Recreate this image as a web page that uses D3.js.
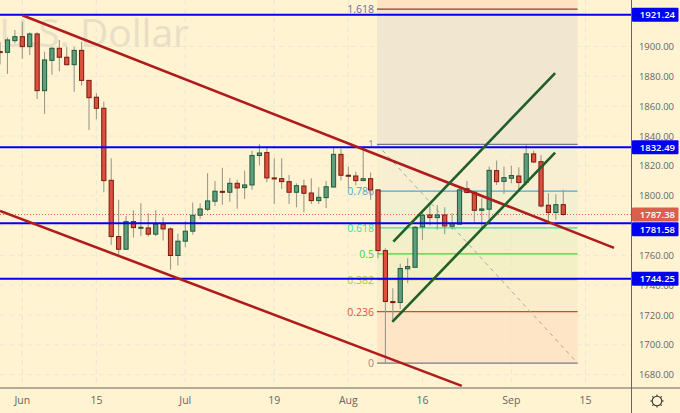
<!DOCTYPE html>
<html><head><meta charset="utf-8">
<script src="https://cdn.jsdelivr.net/npm/d3@7"></script>
<style>html,body{margin:0;padding:0;background:#fff3d1}svg{display:block}text{font-family:"Open Sans",sans-serif}</style>
</head><body><svg id="c" width="680" height="413"></svg>
<script>
// [bar index, open, high, low, close]
const candles = [
[-3,1896.6,1903,1888,1896],[-2,1896.1,1906.1,1881.6,1904.4],[-1,1903.9,1911.1,1902.1,1906.6],[0,1906.6,1916.6,1891.6,1899.9],
[1,1899.9,1909.5,1894.3,1908.4],[2,1908.4,1909.5,1864.8,1870.4],[3,1870.4,1896.5,1854.8,1891],[4,1890.7,1899.9,1881.1,1898.8],
[5,1898.8,1904.4,1883.4,1892.8],[6,1892.8,1899.9,1887.2,1887.8],[7,1887.8,1899.9,1869.7,1897.4],[8,1897.4,1903.2,1873.8,1877.3],
[9,1877.3,1877.3,1844.1,1865.7],[10,1866,1868.6,1851.2,1858.6],[11,1858.6,1863,1802.3,1810.1],[12,1810.3,1825.1,1767,1772.6],
[13,1772.6,1797.2,1759.6,1764.1],[14,1764.1,1786.4,1763.7,1782.6],[15,1782.6,1790.2,1771.9,1778.6],[16,1778.3,1794.9,1773,1778.8],
[17,1778.4,1788.2,1772.6,1774.2],[18,1774.2,1790.2,1773,1780.9],[19,1780.9,1785.5,1769.9,1777.7],[20,1777.7,1778.8,1750.3,1759.9],
[21,1759.9,1774.4,1753.2,1769.5],[22,1769.5,1782.9,1765.4,1776.2],[23,1776.2,1795.4,1773.9,1786.9],[24,1786.9,1794.9,1784.4,1791.1],
[25,1790.9,1815,1789.8,1796.5],[26,1796.3,1809.9,1793.1,1803],[27,1802.9,1818.8,1794,1802.5],[28,1802.3,1812.1,1796,1808.3],
[29,1808.3,1810.6,1791.3,1805.2],[30,1805.4,1816.8,1797.8,1807.2],[31,1807.2,1830.2,1803.9,1826.9],[32,1826.9,1834.4,1820.2,1828.6],
[33,1828.9,1832.9,1809,1811.9],[34,1811.9,1825.1,1794.5,1811.5],[35,1811.4,1825.1,1804.5,1809.4],[36,1809.4,1813.9,1794.5,1802.3],
[37,1802.3,1808.3,1792.2,1806.7],[38,1806.5,1810.6,1788.9,1801.6],[39,1801.8,1811.7,1794.5,1796.7],[40,1796.7,1805.6,1794.5,1798.9],
[41,1798.7,1809.9,1791.8,1806],[42,1805.8,1832.9,1805.6,1827.7],[43,1827.7,1831.3,1810.1,1813.7],[44,1813.7,1819.5,1805,1813.3],
[45,1813.2,1816.1,1807,1810.1],[46,1810.1,1832.9,1810.1,1811.4],[47,1811.4,1815.5,1797.2,1803.9],[48,1803.9,1804.2,1758.1,1763.2],
[49,1763.2,1764.8,1687.7,1729.1],[50,1729,1738,1715.6,1728.6],[51,1728.4,1754.3,1723.9,1751.2],[52,1751,1758.1,1741.3,1752.5],
[53,1752,1779.7,1752,1778.8],[54,1779.1,1790,1770.4,1786.9],[55,1787.1,1794.9,1780,1785.3],[56,1785.3,1793.8,1777.1,1787.1],
[57,1787.1,1792.2,1774.2,1779.7],[58,1779.5,1788.2,1777.1,1781.1],[59,1780.9,1806.5,1780.9,1803.9],[60,1804.7,1809.9,1801.6,1802.1],
[61,1802.3,1802.7,1782.6,1790.2],[62,1790.2,1798.3,1778.2,1791.1],[63,1790.9,1819.5,1780.4,1817],[64,1816.8,1823.5,1807.2,1809.4],
[65,1809.6,1819.5,1801.2,1812.1],[66,1811.7,1820,1808.3,1813.5],[67,1813.2,1819,1802.7,1808.8],[68,1809,1834,1807.2,1828],
[69,1828,1830.2,1821.7,1822.6],[70,1822.8,1827.3,1792,1793.1],[71,1793.6,1801.6,1782.6,1788.7],[72,1788.7,1801,1783.8,1794],
[73,1794,1803.9,1786.4,1787.38]];
const gridTicks = [1680,1700,1720,1740,1760,1780,1800,1820,1840,1860,1880,1900];
const priceLabels = [1680,1700,1720,1740,1760,1800,1820,1840,1860,1880,1900];
const timeTicks = [0,10,22,34,44,54,66,76];
const timeLabels = ["Jun","15","Jul","19","Aug","16","Sep","15"];
const hLevels = [1921.24,1832.49,1781.58,1744.25];
const lastPrice = 1787.38;
// [[bar,price],[bar,price]]
const redLines = [[[0,1921],[79.85,1765]],[[-3,1789.8],[59.3,1672.5]]];
const greenLines = [[[50.07,1769.2],[71.9,1882.2]],[[49.93,1715.4],[71.9,1828.8]]];
const fibLow = 1687.7, fibHigh = 1834.4, fibStart = 47.87, fibEnd = 74.93;
const fibRatios = [0,0.236,0.382,0.5,0.618,0.786,1,1.618];
const fibNames = ["0","0.236","0.382","0.5","0.618","0.786","1","1.618"];
const fibColors = ["#787b86","#e0403a","#a8c820","#38d838","#40dca0","#48a8d8","#787b86","#8b3a3a"];
const fibLabelColors = ["#909090","#e0504a","#b0c830","#38d838","#40dca0","#48a8d8","#909090","#6a6aa8"];
const fibFills = ["#fde3c3","#f8edc8","#f2f0c4","#eff0c8","#f2efd0","#f7eed2","#efe5d0"];
const fibTopRatio = 1.8, fibTopFill = "#fde3c3";

const svg = d3.select("#c");
const x = d3.scaleLinear().domain([0,76]).range([22.3,585.5]);
const y = d3.scaleLinear().domain([1680,1900]).range([374.7,46.5]);
const W = 631.5, H = 388;
const defs = svg.append("defs");
defs.append("clipPath").attr("id","p").append("rect").attr("width",W).attr("height",H);
const g = svg.append("g").attr("clip-path","url(#p)");

// grid
g.selectAll(".gy").data(gridTicks).join("line").attr("x1",0).attr("x2",W).attr("y1",d=>y(d)).attr("y2",d=>y(d))
 .attr("stroke","#ece8d8").attr("stroke-width",1).attr("stroke-dasharray","5 4");
g.selectAll(".gx").data(timeTicks).join("line").attr("x1",d=>x(d)).attr("x2",d=>x(d)).attr("y1",0).attr("y2",H)
 .attr("stroke","#ece8d8").attr("stroke-width",1).attr("stroke-dasharray","5 4");

// watermark
g.append("text").attr("x",189).attr("y",47).attr("text-anchor","end").attr("font-size",39)
 .attr("fill","#e8dfc6").text("U.S. Dollar");

// fib
const fibVal = r => fibLow + r*(fibHigh-fibLow);
g.selectAll(".ff").data(fibFills).join("rect").attr("x",x(fibStart)).attr("width",x(fibEnd)-x(fibStart))
 .attr("y",(d,i)=>y(fibVal(fibRatios[i+1]))).attr("height",(d,i)=>y(fibVal(fibRatios[i]))-y(fibVal(fibRatios[i+1])))
 .attr("fill",d=>d).attr("fill-opacity",0.9);
g.append("rect").attr("x",x(fibStart)).attr("width",x(fibEnd)-x(fibStart))
 .attr("y",y(fibVal(fibTopRatio))).attr("height",y(fibVal(1.618))-y(fibVal(fibTopRatio))).attr("fill",fibTopFill);
g.selectAll(".gx2").data(timeTicks).join("line").attr("x1",d=>x(d)).attr("x2",d=>x(d)).attr("y1",0).attr("y2",H)
 .attr("stroke","#ece8d8").attr("stroke-opacity",0.5).attr("stroke-dasharray","5 4");
g.selectAll(".fl").data(fibRatios).join("line").attr("x1",x(fibStart)).attr("x2",x(fibEnd))
 .attr("y1",d=>y(fibVal(d))).attr("y2",d=>y(fibVal(d))).attr("stroke",(d,i)=>fibColors[i]).attr("stroke-width",1.2);
g.selectAll(".ft").data(fibRatios).join("text").attr("x",x(fibStart)-3).attr("y",d=>y(fibVal(d))+4)
 .attr("text-anchor","end").attr("font-size",10.5).attr("fill",(d,i)=>fibLabelColors[i]).text((d,i)=>fibNames[i]);
g.append("line").attr("x1",x(fibStart)).attr("y1",y(fibHigh)).attr("x2",x(fibEnd)).attr("y2",y(fibLow))
 .attr("stroke","#a8a8a0").attr("stroke-dasharray","4 4");

// last price line
g.append("line").attr("x1",0).attr("x2",W).attr("y1",y(lastPrice)).attr("y2",y(lastPrice))
 .attr("stroke","#e8604a").attr("stroke-dasharray","1 2");

// candles
const cg = g.selectAll(".c").data(candles).join("g");
cg.append("line").attr("x1",d=>x(d[0])).attr("x2",d=>x(d[0])).attr("y1",d=>y(d[2])).attr("y2",d=>y(d[3]))
 .attr("stroke","#9a9a90").attr("stroke-width",1.1);
cg.append("rect").attr("x",d=>x(d[0])-2.1).attr("width",4.2)
 .attr("y",d=>y(Math.max(d[1],d[4]))).attr("height",d=>Math.max(1,Math.abs(y(d[1])-y(d[4]))))
 .attr("fill",d=>d[4]>=d[1]?"#5f9e7c":"#d9503c")
 .attr("stroke",d=>d[4]>=d[1]?"#1e5a3c":"#7a1a10").attr("stroke-width",1);

// horizontal levels
g.selectAll(".hl").data(hLevels).join("line").attr("x1",0).attr("x2",W).attr("y1",d=>y(d)).attr("y2",d=>y(d))
 .attr("stroke","#0000f0").attr("stroke-width",2);

// trend lines
const seg = (sel,data,col)=>sel.selectAll("line.t").data(data).join("line").attr("class","t")
 .attr("x1",d=>x(d[0][0])).attr("y1",d=>y(d[0][1])).attr("x2",d=>x(d[1][0])).attr("y2",d=>y(d[1][1]))
 .attr("stroke",col).attr("stroke-width",2.6);
seg(g.append("g"),redLines,"#b01c1c");
seg(g.append("g"),greenLines,"#1f5f28");

// axes
const fg="#666";
svg.append("line").attr("x1",W).attr("x2",W).attr("y1",0).attr("y2",413).attr("stroke",fg);
svg.append("line").attr("x1",0).attr("x2",680).attr("y1",H).attr("y2",H).attr("stroke",fg);
svg.selectAll(".py").data(priceLabels).join("text").attr("x",674).attr("y",d=>y(d)+3.5).attr("text-anchor","end")
 .attr("font-size",9.5).attr("fill","#666").text(d=>d.toFixed(2));
svg.selectAll(".tx").data(timeTicks).join("text").attr("x",d=>x(d)).attr("y",403.5).attr("text-anchor","middle")
 .attr("font-size",10.5).attr("fill","#666").text((d,i)=>timeLabels[i]);

// price tags: a tag is pushed down when it would collide with the one above
const tagShift = {1781.58:6};
const tag=(v,col)=>{
  const c=y(v)+(tagShift[v]||0);
  svg.append("rect").attr("x",W+0.5).attr("width",46.5).attr("y",c-7).attr("height",14).attr("rx",1).attr("fill",col);
  svg.append("text").attr("x",675).attr("y",c+3.5).attr("text-anchor","end").attr("font-size",9.5).attr("font-weight",600)
   .attr("fill","#fff").text(v.toFixed(2));
};
tag(lastPrice,"#d8604c");
hLevels.forEach(v=>tag(v,"#0000f0"));

// gear icon
const ic=svg.append("g").attr("transform","translate(657,401)");
ic.append("circle").attr("r",4.8).attr("fill","none").attr("stroke","#333").attr("stroke-width",1.1);
d3.range(8).forEach(i=>{const a=i*Math.PI/4;
 ic.append("line").attr("x1",4.8*Math.cos(a)).attr("y1",4.8*Math.sin(a)).attr("x2",6.6*Math.cos(a)).attr("y2",6.6*Math.sin(a))
  .attr("stroke","#333").attr("stroke-width",1.1);});
</script></body></html>
